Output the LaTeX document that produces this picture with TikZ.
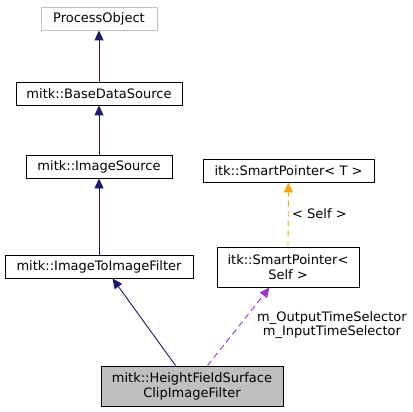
\documentclass[tikz,border=0pt]{standalone}
\usepackage{fontspec}
\setmainfont{DejaVu Sans}
\usetikzlibrary{arrows.meta}

\definecolor{inhblue}{RGB}{25,25,112}
\definecolor{usepurple}{RGB}{154,50,205}
\definecolor{tmplorange}{RGB}{255,165,0}
\definecolor{boxgray}{RGB}{191,191,191}

\begin{document}
\begin{tikzpicture}[x=1pt,y=-1pt,
  cls/.style={draw=black,line width=0.9pt,inner sep=0pt,align=center,
    font=\fontsize{13}{15}\selectfont,minimum height=23pt},
  inherit/.style={draw=inhblue,line width=0.9pt,-{Triangle[length=10pt,width=9pt]}},
  usage/.style={draw=usepurple,line width=0.9pt,dash pattern=on 6pt off 4pt,
    -{Triangle[length=10pt,width=9pt]}},
  tmpl/.style={draw=tmplorange,line width=0.9pt,dash pattern=on 6pt off 4pt,
    -{Triangle[length=10pt,width=9pt]}},
  lbl/.style={font=\fontsize{13}{14}\selectfont,inner sep=0pt,align=center}]
\useasboundingbox (0,0) rectangle (413,412);

\node[cls,draw=boxgray,minimum width=116pt] (po) at (99,18.5) {ProcessObject};
\node[cls,minimum width=166pt] (bds) at (99,93.5) {mitk::BaseDataSource};
\node[cls,minimum width=146pt] (is) at (99,166.5) {mitk::ImageSource};
\node[cls,minimum width=188pt] (itif) at (99,266.5) {mitk::ImageToImageFilter};
\node[cls,minimum width=171pt] (spt) at (288.5,170.5) {itk::SmartPointer< T >};
\node[cls,minimum width=142pt,minimum height=40pt] (sps) at (288,267) {itk::SmartPointer<\\Self >};
\node[cls,fill=boxgray,minimum width=182pt,minimum height=40pt] (hfsc) at (192,386) {mitk::HeightFieldSurface\\ClipImageFilter};

\draw[inherit] (bds.north) -- (po.south);
\draw[inherit] (is.north) -- (bds.south);
\draw[inherit] (itif.north) -- (is.south);
\draw[inherit] ([xshift=75pt]hfsc.north west) -- ([xshift=108pt]itif.south west);
\draw[usage] ([xshift=107pt]hfsc.north west) -- ([xshift=53pt]sps.south west);
\draw[tmpl] (sps.north) -- (spt.south);

\node[lbl,anchor=west] (self) at (292,214) {< Self >};
\node[lbl] (members) at (332,325) {m\_OutputTimeSelector\\m\_InputTimeSelector};

\end{tikzpicture}
\end{document}
